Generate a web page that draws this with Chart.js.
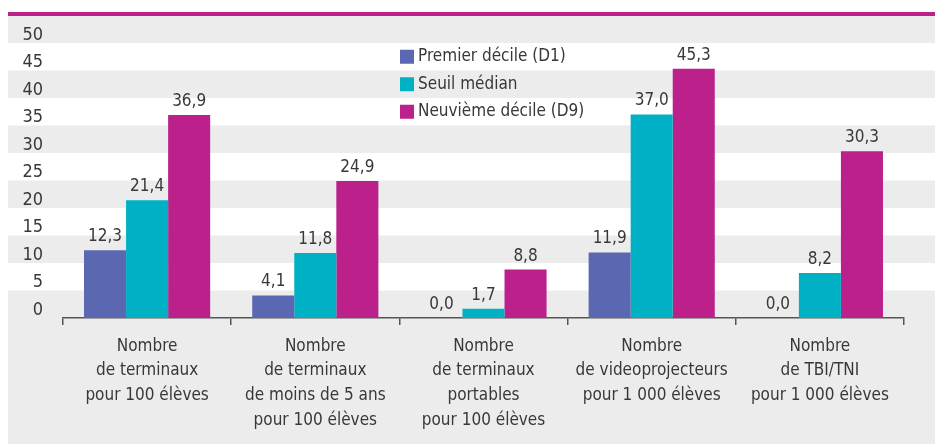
<!DOCTYPE html>
<html>
<head>
<meta charset="utf-8">
<script src="https://cdn.jsdelivr.net/npm/chart.js@4.4.1/dist/chart.umd.min.js"></script>
<style>
  html, body { margin: 0; padding: 0; background: #fff; }
  #wrap { width: 938px; height: 444px; position: relative; }
</style>
</head>
<body>
<div id="wrap"><canvas id="myBarChart"></canvas></div>
<script>
const categories = [
  ["Nombre", "de terminaux", "pour 100 élèves"],
  ["Nombre", "de terminaux", "de moins de 5 ans", "pour 100 élèves"],
  ["Nombre", "de terminaux", "portables", "pour 100 élèves"],
  ["Nombre", "de videoprojecteurs", "pour 1 000 élèves"],
  ["Nombre", "de TBI/TNI", "pour 1 000 élèves"]
];
const seriesNames = ["Premier décile (D1)", "Seuil médian", "Neuvième décile (D9)"];
const d1 = [12.3, 4.1, 0.0, 11.9, 0.0];
const median = [21.4, 11.8, 1.7, 37.0, 8.2];
const d9 = [36.9, 24.9, 8.8, 45.3, 30.3];
const yTicks = [0, 5, 10, 15, 20, 25, 30, 35, 40, 45, 50];

const colors = ["#5968b0", "#00b1c5", "#bc208b"];
const FONT = "'Liberation Sans Narrow', 'DejaVu Sans Condensed', 'Roboto', sans-serif";
const TEXT = "#383838";

// grey bands + top magenta rule
const bands = {
  id: "bands",
  beforeDraw(chart) {
    const c = chart.ctx, y = chart.scales.y;
    const x0 = 8, x1 = 935;
    c.save();
    c.fillStyle = "#ececec";
    c.fillRect(x0, 16, x1 - x0, y.getPixelForValue(50) - 16);
    for (let v = 45; v > 0; v -= 10) {
      const top = y.getPixelForValue(v), bot = y.getPixelForValue(v - 5);
      c.fillRect(x0, top, x1 - x0, bot - top);
    }
    const base = y.getPixelForValue(0);
    c.fillRect(x0, base, x1 - x0, chart.height - base);
    c.fillStyle = "#bc208b";
    c.fillRect(x0, 12, x1 - x0, 4);
    c.restore();
  }
};

// value labels above bars
const valueLabels = {
  id: "valueLabels",
  afterDatasetsDraw(chart) {
    const c = chart.ctx;
    c.save();
    c.font = "17px " + FONT;
    c.fillStyle = TEXT;
    c.textAlign = "center";
    c.textBaseline = "bottom";
    chart.data.datasets.forEach((ds, i) => {
      chart.getDatasetMeta(i).data.forEach((bar, j) => {
        c.fillText(ds.data[j].toFixed(1).replace(".", ","), bar.x, bar.y - 5);
      });
    });
    c.restore();
  }
};

// vertical legend inside the plot
const sideLegend = {
  id: "sideLegend",
  afterDraw(chart) {
    const c = chart.ctx, y = chart.scales.y;
    const lx = 400;
    c.save();
    c.font = "17px " + FONT;
    c.textBaseline = "middle";
    chart.data.datasets.forEach((ds, i) => {
      const cy = y.getPixelForValue(47.5 - 5 * i);
      c.fillStyle = ds.backgroundColor;
      c.fillRect(lx, cy - 7, 14, 14);
      c.fillStyle = TEXT;
      c.fillText(ds.label, lx + 18, cy);
    });
    c.restore();
  }
};

const data = {
  labels: categories,
  datasets: [
    { label: seriesNames[0], backgroundColor: colors[0], data: d1 },
    { label: seriesNames[1], backgroundColor: colors[1], data: median },
    { label: seriesNames[2], backgroundColor: colors[2], data: d9 }
  ]
};

const config = {
  type: "bar",
  data: data,
  options: {
    maintainAspectRatio: false,
    responsive: true,
    animation: false,
    layout: { padding: { left: 8, right: 34, top: 43, bottom: 0 } },
    datasets: { bar: { barPercentage: 1, categoryPercentage: 0.75 } },
    plugins: { legend: { display: false }, tooltip: { enabled: false } },
    scales: {
      x: {
        afterFit: s => { s.height = 126; },
        grid: { offset: true, drawOnChartArea: false, tickLength: 7, color: "#555", lineWidth: 1.5 },
        border: { color: "#555", width: 1.5 },
        ticks: { color: TEXT, font: { family: FONT, size: 17, lineHeight: 1.45 }, padding: 9, maxRotation: 0, autoSkip: false }
      },
      y: {
        min: 0, max: 50,
        afterFit: s => { s.width = 55; },
        afterBuildTicks: s => { s.ticks = yTicks.map(v => ({ value: v })); },
        grid: { display: false },
        border: { display: false },
        ticks: { color: TEXT, font: { family: FONT, size: 18 }, padding: 12, labelOffset: -8 }
      }
    }
  },
  plugins: [bands, valueLabels, sideLegend]
};

const ctx = document.getElementById("myBarChart").getContext("2d");
const myBarChart = new Chart(ctx, config);
</script>
</body>
</html>
